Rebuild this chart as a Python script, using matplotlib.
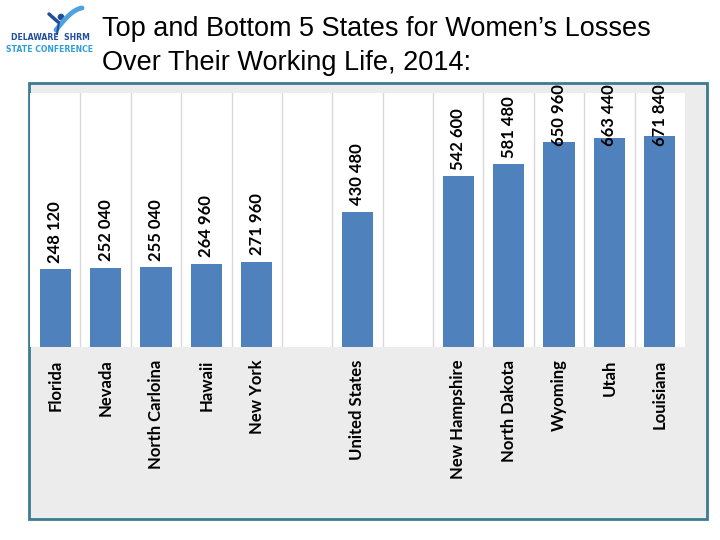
import numpy as np
import matplotlib.pyplot as plt
from matplotlib.patches import Rectangle

# data
categories = ["Florida", "Nevada", "North Carloina", "Hawaii", "New York", "",
              "United States", "", "New Hampshire", "North Dakota", "Wyoming",
              "Utah", "Louisiana"]
values = [248120, 252040, 255040, 264960, 271960, np.nan,
          430480, np.nan, 542600, 581480, 650960, 663440, 671840]
title = "Top and Bottom 5 States for Women\u2019s Losses\nOver Their Working Life, 2014:"

W, H = 720, 540
fig = plt.figure(figsize=(W / 100, H / 100), dpi=100)
fig.patch.set_facecolor("white")

def fx(px):
    return px / W

def fy(py):
    return 1 - py / H

# gray framed panel
panel = Rectangle((fx(29), fy(519)), fx(707) - fx(29), fy(83) - fy(519),
                  transform=fig.transFigure, facecolor="#ECECEC",
                  edgecolor="#3B7C8E", linewidth=2.0, zorder=-5)
fig.patches.append(panel)

# title
fig.text(fx(102), fy(16), title, ha="left", va="top", fontsize=19.5,
         family="Liberation Sans", color="black", linespacing=1.4)

# logo
lg = fig.add_axes([0, fy(60), fx(100), fy(0) - fy(60)])
lg.set_xlim(0, 100)
lg.set_ylim(60, 0)
lg.axis("off")
t = np.linspace(0, 1, 30)
lg.plot(56 + 26 * t, 30 - 18 * np.sin(np.pi * t * 0.5) - 4 * t, color="#4FA3DD", lw=3.5,
        solid_capstyle="round")
lg.plot([49, 58], [14, 22], color="#1F4E9A", lw=2.5, solid_capstyle="round")
lg.plot([59, 57], [22, 34], color="#1F4E9A", lw=1.5)
lg.add_patch(plt.Circle((61, 17), 2.6, color="#1F4E9A"))
lg.text(50, 38, "DELAWARE  SHRM", ha="center", va="center", fontsize=5.6,
        fontweight="bold", color="#1F4E9A", family="DejaVu Sans")
lg.text(50, 50, "STATE CONFERENCE", ha="center", va="center", fontsize=5.6,
        fontweight="bold", color="#2F9FD8", family="DejaVu Sans")

# chart
ax = fig.add_axes([fx(30), fy(347), fx(685) - fx(30), fy(93) - fy(347)])
ax.set_facecolor("white")
x = np.arange(len(categories))
vals = np.array(values, dtype=float)
ok = ~np.isnan(vals)
ax.bar(x[ok], vals[ok], width=0.62, color="#4F81BD", zorder=3)
ax.set_xlim(-0.5, len(categories) - 0.5)
ax.set_ylim(0, 808000)
for b in np.arange(0.5, len(categories) - 0.5, 1):
    ax.axvline(b, color="#D9D9D9", lw=1, zorder=1)
for s in ax.spines.values():
    s.set_visible(False)
ax.set_yticks([])
ax.set_xticks(x)
ax.set_xticklabels(categories, rotation=90, fontsize=12, fontweight="bold",
                   family="Lato", va="top")
ax.tick_params(axis="x", length=0, pad=9)

cap = 835000
for xi, v in zip(x[ok], vals[ok]):
    lab = f"{int(v):,}".replace(",", " ")
    if v + 200000 > cap:
        ax.text(xi, cap, lab, rotation=90, ha="center", va="top", fontsize=12,
                fontweight="bold", family="Lato", clip_on=False, zorder=4)
    else:
        ax.text(xi, v + 20000, lab, rotation=90, ha="center", va="bottom", fontsize=12,
                fontweight="bold", family="Lato", clip_on=False, zorder=4)

fig.savefig("out.png", dpi=100)
